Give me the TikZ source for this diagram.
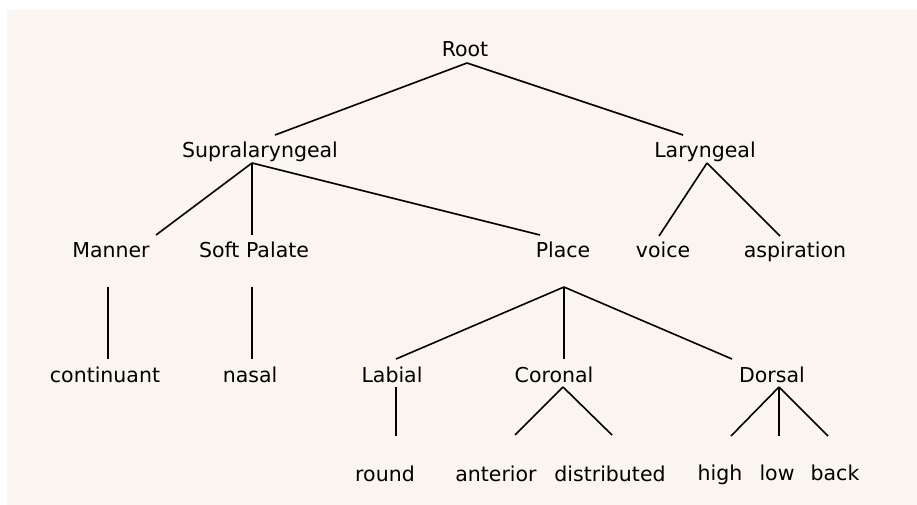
\documentclass[tikz,border=0pt]{standalone}
\usepackage{fontspec}
\setmainfont{DejaVu Sans}
\definecolor{bgbeige}{RGB}{250,246,239}
\begin{document}
\begin{tikzpicture}[x=1pt,y=-1pt,
  lbl/.style={anchor=base,inner sep=0pt,font=\fontsize{20.5}{24}\selectfont},
  edge/.style={draw=black,line width=1.6pt}]
\useasboundingbox (0,0) rectangle (917,505);
\fill[bgbeige] (7,10) rectangle (917,505);
% labels
\node[lbl] (root) at (465,57) {Root};
\node[lbl] (sup) at (260,158) {Supralaryngeal};
\node[lbl] (lar) at (705,158) {Laryngeal};
\node[lbl] (man) at (111,257) {Manner};
\node[lbl] (soft) at (254,257) {Soft Palate};
\node[lbl] (place) at (563,257) {Place};
\node[lbl] (voice) at (663,257) {voice};
\node[lbl] (asp) at (795,257) {aspiration};
\node[lbl] (cont) at (105,382) {continuant};
\node[lbl] (nasal) at (250,382) {nasal};
\node[lbl] (lab) at (392,382) {Labial};
\node[lbl] (cor) at (554,382) {Coronal};
\node[lbl] (dor) at (772,382) {Dorsal};
\node[lbl] (round) at (385,481) {round};
\node[lbl] (ant) at (496,481) {anterior};
\node[lbl] (dist) at (610,481) {distributed};
\node[lbl] (high) at (720,480) {high};
\node[lbl] (low) at (777,480) {low};
\node[lbl] (back) at (835,480) {back};
% connector end points
\coordinate (rootB) at (467,63);
\coordinate (supT) at (275,135);
\coordinate (larT) at (683,135);
\coordinate (supB) at (252,163);
\coordinate (larB) at (707,163);
\coordinate (manT) at (156,235);
\coordinate (softT) at (252,235);
\coordinate (placeT) at (540,235);
\coordinate (voiceT) at (659,236);
\coordinate (aspT) at (780,236);
\coordinate (manB) at (108,287);
\coordinate (contT) at (108,359);
\coordinate (softB) at (252,287);
\coordinate (nasalT) at (252,359);
\coordinate (placeB) at (564,287);
\coordinate (labT) at (396,359);
\coordinate (corT) at (564,359);
\coordinate (dorT) at (732,359);
\coordinate (labB) at (396,387);
\coordinate (roundT) at (396,436);
\coordinate (corB) at (563,387);
\coordinate (antT) at (515,435);
\coordinate (distT) at (612,435);
\coordinate (dorB) at (779,387);
\coordinate (highT) at (731,436);
\coordinate (lowT) at (779,436);
\coordinate (backT) at (828,436);
% connectors
\draw[edge] (rootB) -- (supT);
\draw[edge] (rootB) -- (larT);
\draw[edge] (supB) -- (manT);
\draw[edge] (supB) -- (softT);
\draw[edge] (supB) -- (placeT);
\draw[edge] (larB) -- (voiceT);
\draw[edge] (larB) -- (aspT);
\draw[edge] (manB) -- (contT);
\draw[edge] (softB) -- (nasalT);
\draw[edge] (placeB) -- (labT);
\draw[edge] (placeB) -- (corT);
\draw[edge] (placeB) -- (dorT);
\draw[edge] (labB) -- (roundT);
\draw[edge] (corB) -- (antT);
\draw[edge] (corB) -- (distT);
\draw[edge] (dorB) -- (highT);
\draw[edge] (dorB) -- (lowT);
\draw[edge] (dorB) -- (backT);
\end{tikzpicture}
\end{document}
